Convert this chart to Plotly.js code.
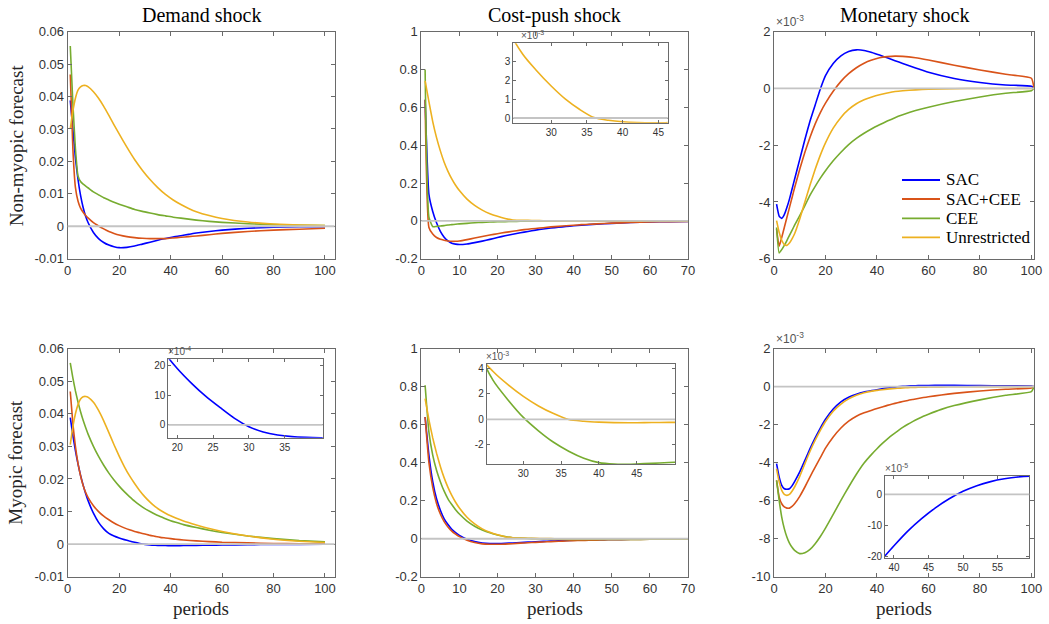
<!DOCTYPE html>
<html>
<head>
<meta charset="utf-8">
<script src="https://cdn.plot.ly/plotly-3.0.1.min.js"></script>
<style>
  html, body { margin: 0; padding: 0; background: #fff; }
  #chart { width: 1049px; height: 624px; }
</style>
</head>
<body>
<div id="chart"></div>
<script>
// ---------------------------------------------------------------
// Impulse responses of the forecast, by shock and model variant.
// Horizon in periods; Monetary-shock responses are in units of 1e-3.
// ---------------------------------------------------------------

const seriesNames = ['SAC', 'SAC+CEE', 'CEE', 'Unrestricted'];
const shockTitles = ['Demand shock', 'Cost-push shock', 'Monetary shock'];
const rowTitles = ['Non-myopic forecast', 'Myopic forecast'];

// Demand shock, non-myopic forecast
const demandNmPeriods = [1,2,3,4,5,6,7,8,10,12,14,16,18,20,23,26,29,32,35,38,41,44,47,50,55,60,70,80,90,100];
const demandNmSAC = [0.0388,0.030,0.021,0.0145,0.0095,0.0058,0.0030,0.0010,-0.0019,-0.0038,-0.0050,-0.0058,-0.0063,-0.0066,-0.0065,-0.0061,-0.0055,-0.0049,-0.0043,-0.0038,-0.0033,-0.0029,-0.0025,-0.0021,-0.0016,-0.0012,-0.0006,-0.0003,-0.00015,-0.0001];
const demandNmSACCEE = [0.0468,0.024,0.012,0.0078,0.0056,0.0043,0.0033,0.0025,0.0011,0.0001,-0.0008,-0.0016,-0.0022,-0.0027,-0.0032,-0.0035,-0.0037,-0.0038,-0.0038,-0.0038,-0.0036,-0.0034,-0.0032,-0.0030,-0.0026,-0.0022,-0.0016,-0.0012,-0.0009,-0.0006];
const demandNmCEE = [0.0556,0.038,0.024,0.0155,0.0138,0.0130,0.0124,0.0118,0.0106,0.0097,0.0088,0.0081,0.0074,0.0068,0.0060,0.0052,0.0046,0.0041,0.0036,0.0032,0.0028,0.0025,0.0022,0.0019,0.0015,0.0012,0.0008,0.0005,0.0003,0.0002];
const demandNmUnr = [0.0300,0.0355,0.0395,0.0420,0.0430,0.0434,0.0434,0.0430,0.0415,0.0395,0.0370,0.0342,0.0313,0.0285,0.0244,0.0206,0.0173,0.0144,0.0119,0.0098,0.0081,0.0067,0.0055,0.0045,0.0033,0.0024,0.0013,0.0007,0.0004,0.0002];

// Demand shock, myopic forecast
const demandMyPeriods = [1,2,3,4,5,6,7,8,10,12,14,16,18,20,22,24,26,28,30,32,34,36,38,40,42,45,50,55,60,70,80,90,100];
const demandMySAC = [0.0388,0.0334,0.0287,0.0246,0.0211,0.0181,0.0155,0.0132,0.0095,0.0067,0.0047,0.0033,0.0025,0.0019,0.00140,0.00096,0.00058,0.00022,-0.00006,-0.00024,-0.00034,-0.000395,-0.00042,-0.00043,-0.00043,-0.00042,-0.00037,-0.00031,-0.00025,-0.00015,-0.00009,-0.00005,-0.00003];
const demandMySACCEE = [0.0468,0.037,0.030,0.0248,0.0210,0.0180,0.0158,0.0142,0.0118,0.0100,0.0086,0.0075,0.0065,0.0057,0.0050,0.0044,0.0039,0.0035,0.0031,0.0027,0.0024,0.0021,0.0019,0.0017,0.0015,0.0013,0.0010,0.0008,0.0006,0.0004,0.0002,0.00015,0.0001];
const demandMyCEE = [0.0556,0.0510,0.0470,0.0436,0.0406,0.0380,0.0357,0.0336,0.0300,0.0269,0.0242,0.0218,0.0197,0.0178,0.0161,0.0146,0.0132,0.0120,0.0109,0.0100,0.0092,0.0085,0.0078,0.0072,0.0067,0.0060,0.0051,0.0043,0.0036,0.0025,0.0017,0.0011,0.0007];
const demandMyUnr = [0.0305,0.0360,0.0400,0.0428,0.0445,0.0452,0.0453,0.0450,0.0435,0.0410,0.0378,0.0342,0.0305,0.0270,0.0238,0.0210,0.0186,0.0164,0.0145,0.0129,0.0115,0.0104,0.0095,0.0087,0.0080,0.0071,0.0059,0.0048,0.0039,0.0025,0.0015,0.0009,0.0005];

// Cost-push shock, non-myopic forecast
const costNmPeriods = [1,2,3,4,5,6,7,8,9,10,12,14,16,18,20,22,24,26,28,30,32,34,36,38,40,42,44,46,50,55,60,65,70];
const costNmSAC = [0.64,0.14,0.05,-0.01,-0.055,-0.086,-0.106,-0.118,-0.123,-0.125,-0.122,-0.115,-0.107,-0.098,-0.088,-0.079,-0.071,-0.063,-0.056,-0.049,-0.043,-0.038,-0.034,-0.030,-0.026,-0.023,-0.020,-0.017,-0.013,-0.009,-0.006,-0.004,-0.003];
const costNmSACCEE = [0.64,-0.035,-0.07,-0.088,-0.097,-0.102,-0.106,-0.108,-0.108,-0.106,-0.099,-0.091,-0.083,-0.075,-0.068,-0.061,-0.055,-0.049,-0.044,-0.040,-0.036,-0.032,-0.029,-0.026,-0.023,-0.020,-0.018,-0.016,-0.012,-0.009,-0.006,-0.004,-0.003];
const costNmCEE = [0.80,0.02,-0.030,-0.029,-0.027,-0.025,-0.022,-0.020,-0.018,-0.016,-0.013,-0.010,-0.008,-0.006,-0.005,-0.004,-0.003,-0.0022,-0.0015,-0.0009,-0.0004,0.0,0.0002,0.0003,0.0003,0.0003,0.0003,0.0002,0.0002,0.0001,0.0001,0.0,0.0];
const costNmUnr = [0.74,0.63,0.525,0.44,0.37,0.31,0.262,0.222,0.188,0.160,0.115,0.082,0.057,0.038,0.024,0.013,0.0048,0.0034,0.0025,0.0017,0.0010,0.00045,0.00002,-0.00012,-0.0002,-0.00024,-0.00025,-0.00025,-0.00022,-0.00017,-0.00012,-0.00008,-0.00005];

// Cost-push shock, myopic forecast
const costMyPeriods = [1,2,3,4,5,6,7,8,9,10,12,14,16,18,20,22,24,26,28,30,32,34,36,38,40,42,44,46,48,50,55,60,65,70];
const costMySAC = [0.64,0.44,0.30,0.21,0.15,0.105,0.075,0.05,0.032,0.018,-0.002,-0.015,-0.022,-0.025,-0.025,-0.024,-0.022,-0.020,-0.018,-0.016,-0.014,-0.0125,-0.011,-0.0095,-0.008,-0.007,-0.006,-0.0052,-0.0045,-0.004,-0.003,-0.002,-0.0015,-0.001];
const costMySACCEE = [0.64,0.40,0.27,0.185,0.13,0.09,0.062,0.04,0.024,0.011,-0.008,-0.020,-0.027,-0.029,-0.029,-0.028,-0.026,-0.023,-0.021,-0.019,-0.017,-0.015,-0.013,-0.0115,-0.010,-0.009,-0.008,-0.007,-0.006,-0.005,-0.004,-0.003,-0.002,-0.0015];
const costMyCEE = [0.807,0.56,0.44,0.36,0.30,0.25,0.21,0.18,0.153,0.13,0.093,0.066,0.046,0.031,0.020,0.011,0.0056,0.00305,0.0015,0.00015,-0.0009,-0.0018,-0.0025,-0.00305,-0.0034,-0.00352,-0.00353,-0.00348,-0.00343,-0.00337,-0.0032,-0.0029,-0.0026,-0.0023];
const costMyUnr = [0.736,0.625,0.53,0.45,0.38,0.32,0.27,0.228,0.192,0.162,0.113,0.078,0.052,0.034,0.021,0.011,0.0052,0.00375,0.0027,0.0018,0.00105,0.00045,-0.00002,-0.00015,-0.00022,-0.00026,-0.00027,-0.00026,-0.00025,-0.00024,-0.0002,-0.00015,-0.0001,-0.00007];

// Monetary shock, non-myopic forecast (x 1e-3)
const monNmPeriods = [1,2,3,4,5,6,7,8,10,12,14,16,18,20,23,26,29,32,35,38,41,44,47,50,55,60,70,80,90,100,101];
const monNmSAC = [-4.08,-4.5,-4.58,-4.45,-4.2,-3.9,-3.55,-3.2,-2.5,-1.8,-1.15,-0.58,-0.02,0.45,0.88,1.15,1.3,1.36,1.34,1.27,1.18,1.08,0.98,0.88,0.72,0.57,0.35,0.21,0.12,0.08,0];
const monNmSACCEE = [-4.96,-5.56,-5.25,-4.9,-4.55,-4.2,-3.85,-3.5,-2.85,-2.25,-1.72,-1.25,-0.85,-0.52,-0.1,0.25,0.52,0.73,0.89,1.0,1.08,1.12,1.14,1.13,1.08,1.0,0.82,0.65,0.5,0.36,0];
const monNmCEE = [-4.9,-5.8,-5.68,-5.53,-5.36,-5.18,-5.0,-4.82,-4.48,-4.13,-3.76,-3.45,-3.16,-2.9,-2.55,-2.25,-1.98,-1.76,-1.58,-1.42,-1.28,-1.15,-1.03,-0.93,-0.78,-0.66,-0.46,-0.3,-0.17,-0.08,0];
const monNmUnr = [-4.66,-5.07,-5.35,-5.5,-5.53,-5.45,-5.3,-5.12,-4.6,-4.0,-3.4,-2.85,-2.35,-1.92,-1.4,-1.02,-0.74,-0.54,-0.4,-0.3,-0.22,-0.16,-0.11,-0.08,-0.05,-0.03,-0.01,0,0,0,0];

// Monetary shock, myopic forecast (x 1e-3)
const monMyPeriods = [1,2,3,4,5,6,7,8,10,12,14,16,18,20,23,26,29,32,35,38,40,42,44,46,48,50,52,54,56,58,60,65,70,80,90,100,101];
const monMySAC = [-4.05,-4.75,-5.19,-5.37,-5.4,-5.37,-5.22,-5.0,-4.49,-3.88,-3.26,-2.7,-2.18,-1.72,-1.18,-0.8,-0.56,-0.4,-0.29,-0.215,-0.165,-0.118,-0.078,-0.043,-0.014,0.010,0.028,0.041,0.050,0.056,0.059,0.061,0.06,0.05,0.04,0.03,0];
const monMySACCEE = [-4.93,-5.8,-6.16,-6.33,-6.39,-6.39,-6.3,-6.16,-5.77,-5.28,-4.75,-4.23,-3.74,-3.24,-2.65,-2.18,-1.82,-1.56,-1.38,-1.24,-1.15,-1.07,-0.99,-0.92,-0.85,-0.79,-0.73,-0.68,-0.63,-0.58,-0.54,-0.44,-0.36,-0.23,-0.14,-0.08,0];
const monMyCEE = [-4.93,-5.98,-6.86,-7.47,-7.91,-8.23,-8.45,-8.61,-8.78,-8.73,-8.56,-8.26,-7.88,-7.44,-6.72,-5.98,-5.28,-4.61,-4.02,-3.55,-3.27,-3.0,-2.76,-2.54,-2.34,-2.15,-1.98,-1.83,-1.69,-1.56,-1.45,-1.2,-1.0,-0.7,-0.46,-0.27,0];
const monMyUnr = [-4.32,-5.0,-5.46,-5.67,-5.72,-5.67,-5.5,-5.28,-4.72,-4.05,-3.4,-2.82,-2.3,-1.84,-1.3,-0.92,-0.65,-0.46,-0.33,-0.24,-0.2,-0.165,-0.135,-0.11,-0.09,-0.072,-0.058,-0.047,-0.038,-0.031,-0.025,-0.015,-0.01,-0.004,-0.002,-0.001,0];

// ---------------------------------------------------------------
// Figure geometry (pixels) and styling
// ---------------------------------------------------------------
const W = 1049, H = 624;
const px = v => v / W;
const py = v => 1 - v / H;

const colors = ['#0000ff', '#d95319', '#77ac30', '#edb120'];
const axisGray = '#6a6a6a';
const zeroGray = '#c4c4c4';
const sans = 'Liberation Sans, Arial, sans-serif';
const serif = 'Liberation Serif';
const tickFont = { family: sans, size: 13, color: '#333333' };
const insetTickFont = { family: sans, size: 10, color: '#333333' };

const colPx = [[67.7, 334.5], [421.3, 688], [774, 1034]];
const rowPx = [[31.7, 258.7], [348.5, 576.8]];

const panels = [
  { periods: demandNmPeriods, data: [demandNmSAC, demandNmSACCEE, demandNmCEE, demandNmUnr], col: 0, row: 0,
    xr: [0, 103.7], yr: [-0.01, 0.06], xt: [0,20,40,60,80,100],
    yt: [-0.01,0,0.01,0.02,0.03,0.04,0.05,0.06], ytt: ['-0.01','0','0.01','0.02','0.03','0.04','0.05','0.06'] },
  { periods: costNmPeriods, data: [costNmSAC, costNmSACCEE, costNmCEE, costNmUnr], col: 1, row: 0,
    xr: [0, 70], yr: [-0.2, 1], xt: [0,10,20,30,40,50,60,70],
    yt: [-0.2,0,0.2,0.4,0.6,0.8,1], ytt: ['-0.2','0','0.2','0.4','0.6','0.8','1'] },
  { periods: monNmPeriods, data: [monNmSAC, monNmSACCEE, monNmCEE, monNmUnr], col: 2, row: 0,
    xr: [0, 101], yr: [-6, 2], xt: [0,20,40,60,80,100],
    yt: [-6,-4,-2,0,2], ytt: ['-6','-4','-2','0','2'] },
  { periods: demandMyPeriods, data: [demandMySAC, demandMySACCEE, demandMyCEE, demandMyUnr], col: 0, row: 1,
    xr: [0, 103.7], yr: [-0.01, 0.06], xt: [0,20,40,60,80,100],
    yt: [-0.01,0,0.01,0.02,0.03,0.04,0.05,0.06], ytt: ['-0.01','0','0.01','0.02','0.03','0.04','0.05','0.06'] },
  { periods: costMyPeriods, data: [costMySAC, costMySACCEE, costMyCEE, costMyUnr], col: 1, row: 1,
    xr: [0, 70], yr: [-0.2, 1], xt: [0,10,20,30,40,50,60,70],
    yt: [-0.2,0,0.2,0.4,0.6,0.8,1], ytt: ['-0.2','0','0.2','0.4','0.6','0.8','1'] },
  { periods: monMyPeriods, data: [monMySAC, monMySACCEE, monMyCEE, monMyUnr], col: 2, row: 1,
    xr: [0, 101], yr: [-10, 2], xt: [0,20,40,60,80,100],
    yt: [-10,-8,-6,-4,-2,0,2], ytt: ['-10','-8','-6','-4','-2','0','2'] }
];

// Zoomed insets: parent panel, shown series, pixel box, ranges and ticks
const insets = [
  { parent: 1, show: [3], box: [513.3, 667.7, 43.3, 122.7], xr: [24.7, 46.3], yr: [-0.00025, 0.00397],
    xt: [30,35,40,45], yt: [0,0.001,0.002,0.003], ytt: ['0','1','2','3'] },
  { parent: 3, show: [0], box: [168.3, 322.7, 359.3, 437.7], xr: [18.75, 40.3], yr: [-0.00043, 0.00221],
    xt: [20,25,30,35], yt: [0,0.001,0.002], ytt: ['0','10','20'] },
  { parent: 4, show: [2, 3], box: [486.7, 675, 364, 464.3], xr: [25.15, 50.07], yr: [-0.00353, 0.00434],
    xt: [30,35,40,45], yt: [-0.002,0,0.002,0.004], ytt: ['-2','0','2','4'] },
  { parent: 5, show: [0], box: [885, 1029.3, 476, 558.3], xr: [38.7, 59.6], yr: [-0.205, 0.059],
    xt: [40,45,50,55], yt: [-0.2,-0.1,0], ytt: ['-20','-10','0'] }
];

// Legend block inside the Monetary / non-myopic panel
const legendBox = { x0: 902, x1: 940, textX: 945, rows: [180, 199, 218.3, 237.3] };

function baseAxis(extra) {
  return Object.assign({
    showline: true, linecolor: axisGray, linewidth: 1, mirror: 'ticks',
    ticks: 'inside', ticklen: 4, tickwidth: 1, tickcolor: axisGray,
    showgrid: false, zeroline: false, fixedrange: true, tickmode: 'array'
  }, extra);
}

const traces = [];
const layout = {
  width: W, height: H, autosize: false,
  margin: { l: 0, r: 0, t: 0, b: 0 },
  paper_bgcolor: '#ffffff', plot_bgcolor: '#ffffff',
  showlegend: false,
  shapes: [],
  annotations: []
};

function axName(n, letter) { return letter + 'axis' + (n === 1 ? '' : n); }
function axRef(n, letter) { return letter + (n === 1 ? '' : n); }

panels.forEach((p, i) => {
  const n = i + 1;
  const xd = [px(colPx[p.col][0]), px(colPx[p.col][1])];
  const yd = [py(rowPx[p.row][1]), py(rowPx[p.row][0])];
  layout[axName(n, 'x')] = baseAxis({ domain: xd, range: p.xr, anchor: axRef(n, 'y'),
    tickvals: p.xt, ticktext: p.xt.map(String), tickfont: tickFont });
  layout[axName(n, 'y')] = baseAxis({ domain: yd, range: p.yr, anchor: axRef(n, 'x'),
    tickvals: p.yt, ticktext: p.ytt, tickfont: tickFont });
  p.data.forEach((ys, k) => {
    traces.push({
      type: 'scatter', mode: 'lines', x: p.periods, y: ys, name: seriesNames[k],
      xaxis: axRef(n, 'x'), yaxis: axRef(n, 'y'),
      line: { color: colors[k], width: 1.6, shape: 'spline', smoothing: 0.45 },
      hoverinfo: 'skip'
    });
  });
  layout.shapes.push({ type: 'line', xref: axRef(n, 'x') + ' domain', x0: 0, x1: 1,
    yref: axRef(n, 'y'), y0: 0, y1: 0, line: { color: zeroGray, width: 1.8 }, layer: 'above' });
});

insets.forEach((s, j) => {
  const n = 7 + j;
  const p = panels[s.parent];
  layout[axName(n, 'x')] = baseAxis({ domain: [px(s.box[0]), px(s.box[1])], range: s.xr, anchor: axRef(n, 'y'),
    tickvals: s.xt, ticktext: s.xt.map(String), tickfont: insetTickFont, ticklen: 3 });
  layout[axName(n, 'y')] = baseAxis({ domain: [py(s.box[3]), py(s.box[2])], range: s.yr, anchor: axRef(n, 'x'),
    tickvals: s.yt, ticktext: s.ytt, tickfont: insetTickFont, ticklen: 3 });
  layout.shapes.push({ type: 'line', xref: axRef(n, 'x') + ' domain', x0: 0, x1: 1,
    yref: axRef(n, 'y'), y0: 0, y1: 0, line: { color: zeroGray, width: 1.8 }, layer: 'above' });
  s.show.forEach(k => {
    traces.push({
      type: 'scatter', mode: 'lines', x: p.periods, y: p.data[k], name: seriesNames[k],
      xaxis: axRef(n, 'x'), yaxis: axRef(n, 'y'),
      line: { color: colors[k], width: 1.6, shape: 'spline', smoothing: 0.8 },
      hoverinfo: 'skip'
    });
  });
});

// Legend: line samples and series names
seriesNames.forEach((name, k) => {
  const yy = py(legendBox.rows[k]);
  layout.shapes.push({ type: 'line', xref: 'paper', yref: 'paper',
    x0: px(legendBox.x0), x1: px(legendBox.x1), y0: yy, y1: yy,
    line: { color: colors[k], width: 1.8 }, layer: 'above' });
  layout.annotations.push({ text: name, xref: 'paper', yref: 'paper', x: px(legendBox.textX), y: yy,
    xanchor: 'left', yanchor: 'middle', showarrow: false, borderpad: 0,
    font: { family: serif, size: 17, color: '#000000' } });
});

// Column titles, row labels and horizon labels
shockTitles.forEach((t, c) => {
  const cx = px((colPx[c][0] + colPx[c][1]) / 2);
  layout.annotations.push({ text: t, xref: 'paper', yref: 'paper', x: cx, y: py(15),
    xanchor: 'center', yanchor: 'middle', showarrow: false, font: { family: serif, size: 20, color: '#000' } });
  layout.annotations.push({ text: 'periods', xref: 'paper', yref: 'paper', x: cx, y: py(608),
    xanchor: 'center', yanchor: 'middle', showarrow: false, font: { family: serif, size: 19, color: '#262626' } });
});
rowTitles.forEach((t, r) => {
  layout.annotations.push({ text: t, xref: 'paper', yref: 'paper', x: px(16), y: py((rowPx[r][0] + rowPx[r][1]) / 2),
    xanchor: 'center', yanchor: 'middle', textangle: -90, showarrow: false,
    font: { family: serif, size: 19, color: '#262626' } });
});

// Exponent multipliers at the top-left of scaled axes
const multipliers = [
  { text: '-3', x: 775, y: 30, size: 12 },
  { text: '-3', x: 775, y: 347, size: 12 },
  { text: '-3', x: 520, y: 42, size: 10 },
  { text: '-4', x: 167, y: 358, size: 10 },
  { text: '-3', x: 485, y: 363, size: 10 },
  { text: '-5', x: 884, y: 475, size: 10 }
];
multipliers.forEach(m => {
  layout.annotations.push({ text: '\u00d710<sup>' + m.text + '</sup>', xref: 'paper', yref: 'paper',
    x: px(m.x), y: py(m.y), xanchor: 'left', yanchor: 'bottom', showarrow: false, borderpad: 0,
    font: { family: sans, size: m.size, color: '#555555' } });
});

Plotly.newPlot('chart', traces, layout, { staticPlot: true, displayModeBar: false });
</script>
</body>
</html>
